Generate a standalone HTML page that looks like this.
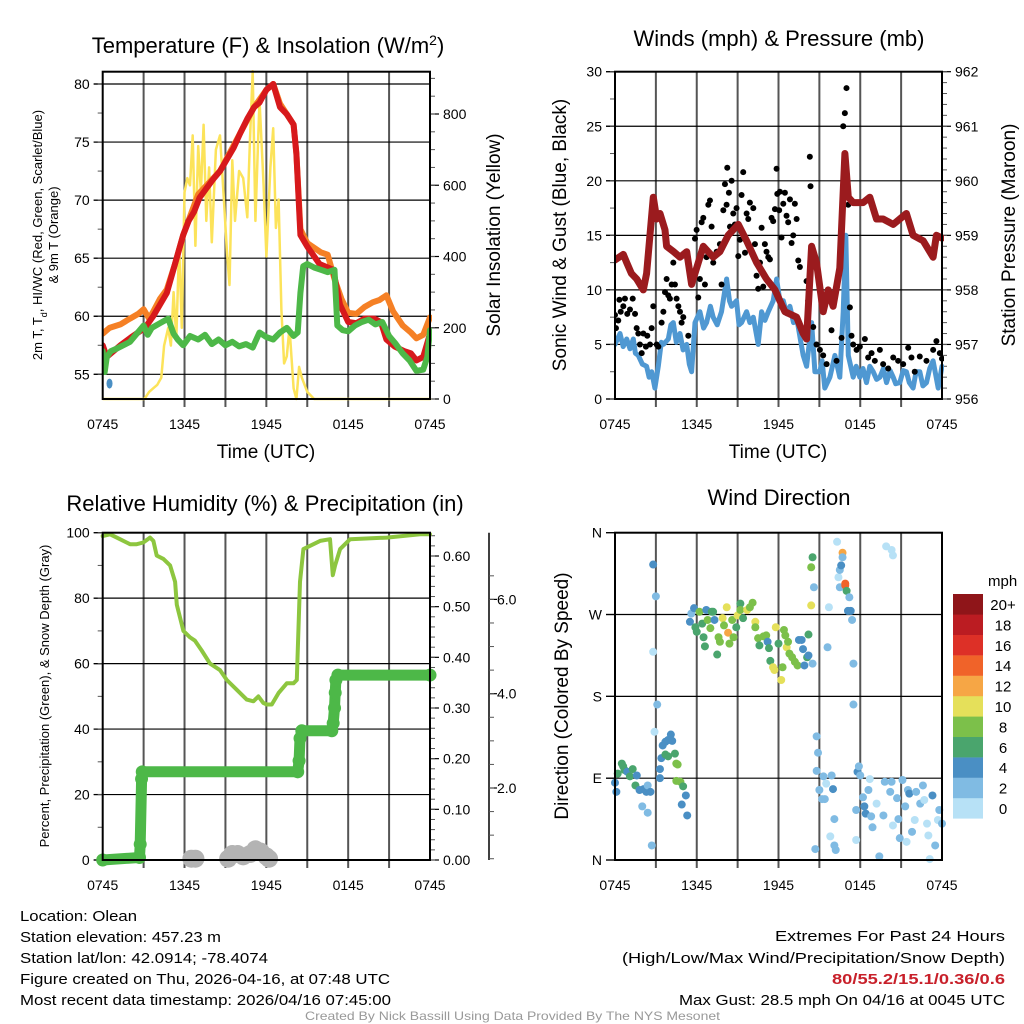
<!DOCTYPE html>
<html><head><meta charset="utf-8"><style>
html,body{margin:0;padding:0;background:#fff;}
svg{display:block;font-family:"Liberation Sans",sans-serif;}
</style></head><body>
<svg id="chart" width="1024" height="1024" viewBox="0 0 1024 1024" xmlns="http://www.w3.org/2000/svg">
<rect width="1024" height="1024" fill="#fff"/>
<g id="g1"></g>
<g id="g2"></g>
<g id="g3"></g>
<g id="g4"></g>
<text x="268" y="53" font-size="22" text-anchor="middle">Temperature (F) &amp; Insolation (W/m<tspan baseline-shift="super" font-size="14">2</tspan>)</text>
<text x="779" y="46" font-size="22" text-anchor="middle">Winds (mph) &amp; Pressure (mb)</text>
<text x="265" y="511" font-size="22" text-anchor="middle">Relative Humidity (%) &amp; Precipitation (in)</text>
<text x="779" y="505" font-size="22" text-anchor="middle">Wind Direction</text>
<text transform="translate(42,235) rotate(-90)" font-size="13" text-anchor="middle">2m T, T<tspan baseline-shift="sub" font-size="9">d</tspan>, HI/WC (Red, Green, Scarlet/Blue)</text>
<text transform="translate(58,235) rotate(-90)" font-size="13" text-anchor="middle">&amp; 9m T (Orange)</text>
<text transform="translate(500,235) rotate(-90)" font-size="19" text-anchor="middle">Solar Insolation (Yellow)</text>
<text transform="translate(566,235) rotate(-90)" font-size="19" text-anchor="middle">Sonic Wind &amp; Gust (Blue, Black)</text>
<text transform="translate(1015,235) rotate(-90)" font-size="19" text-anchor="middle">Station Pressure (Maroon)</text>
<text transform="translate(49,696) rotate(-90)" font-size="13" text-anchor="middle">Percent, Precipitation (Green), &amp; Snow Depth (Gray)</text>
<text transform="translate(568,696) rotate(-90)" font-size="19" text-anchor="middle">Direction (Colored By Speed)</text>
<text x="266" y="458" font-size="19" text-anchor="middle">Time (UTC)</text>
<text x="778" y="458" font-size="19" text-anchor="middle">Time (UTC)</text>
<g font-size="15">
<text x="20" y="921" textLength="117" lengthAdjust="spacingAndGlyphs">Location: Olean</text>
<text x="20" y="942" textLength="201" lengthAdjust="spacingAndGlyphs">Station elevation: 457.23 m</text>
<text x="20" y="963" textLength="248" lengthAdjust="spacingAndGlyphs">Station lat/lon: 42.0914; -78.4074</text>
<text x="20" y="984" textLength="370" lengthAdjust="spacingAndGlyphs">Figure created on Thu, 2026-04-16, at 07:48 UTC</text>
<text x="20" y="1005" textLength="371" lengthAdjust="spacingAndGlyphs">Most recent data timestamp: 2026/04/16 07:45:00</text>
</g>
<g font-size="15">
<text x="775" y="941" textLength="230" lengthAdjust="spacingAndGlyphs">Extremes For Past 24 Hours</text>
<text x="622" y="963" textLength="383" lengthAdjust="spacingAndGlyphs">(High/Low/Max Wind/Precipitation/Snow Depth)</text>
<text x="832" y="984" textLength="173" lengthAdjust="spacingAndGlyphs" fill="#c8202a" font-weight="bold">80/55.2/15.1/0.36/0.6</text>
<text x="679" y="1005" textLength="326" lengthAdjust="spacingAndGlyphs">Max Gust: 28.5 mph On 04/16 at 0045 UTC</text>
</g>
<text x="305" y="1020" font-size="12" fill="#999" textLength="415" lengthAdjust="spacingAndGlyphs">Created By Nick Bassill Using Data Provided By The NYS Mesonet</text>
</svg>
<script>
// ---------- data ----------
const xTickLabels = ["0745","1345","1945","0145","0745"];
const tempRedH = [0,0.3,1.3,2.1,3.1,3.7,4.2,4.7,5.3,5.9,6.3,6.7,7.1,7.6,8.1,8.6,9.1,9.6,10.1,10.6,11.1,11.5,12.0,12.5,13.0,13.5,14.0,14.2,14.5,15.0,15.9,16.9,17.4,18.0,18.6,19.2,19.9,20.4,20.8,21.4,22.1,22.6,23.0,23.5,24];
const tempRed  = [57.5,56.5,57.5,58.2,59,60,61,62,64.5,67,68.2,69,70.2,71,71.8,72.5,73.5,74.5,75.8,77,78,78.4,79.5,80,78,77.4,76.5,74,67,66,64.5,64,61,59.5,59.4,59.8,59.8,59.5,58,57.4,57,56.8,56.2,56.5,58.5];
const tempOrH  = [0,0.5,1.3,2.0,2.6,3.0,3.4,3.7,4.2,4.7,5.3,5.9,7.0,8.6,10.1,11.1,12.0,12.5,13.0,14.0,14.2,14.5,15.0,16.0,16.5,17.0,17.5,18.0,18.6,19.2,19.8,20.3,20.8,21.3,22.0,22.6,23.0,23.5,24];
const tempOr   = [58.5,59,59.3,59.8,60.2,60.6,59.8,60.4,61.5,62.3,64.5,67,70.5,72.5,75.8,78,79.5,80,78.3,76.5,74,67.5,66.3,65.5,65.3,63.2,61.5,60.3,60.2,60.8,61.2,61.4,61.8,60.4,59.2,58.6,58.1,58.4,59.9];
const dewH = [0,0.15,0.3,0.6,1.0,1.5,2.0,2.5,3.0,3.3,3.6,4.2,4.8,5.2,5.5,5.9,6.4,7.0,7.5,8.0,8.5,9.0,9.5,10.0,10.5,11.0,11.5,12.0,12.5,13.0,13.5,14.0,14.3,14.5,14.7,15.0,15.5,16.0,16.5,17.0,17.2,17.6,18.0,18.5,19.0,19.5,20.0,20.5,21.0,21.5,22.0,22.5,23.0,23.5,23.8,24];
const dew  = [57,55.2,56.5,57,57.2,57.5,57.8,58.5,59.2,58.4,59,59.4,59.8,58.5,58,57.5,58.3,58,58.4,57.6,58,57.5,57.8,57.4,57.6,57.3,58.6,58.2,58,58.6,59,58.3,58.6,62,64.3,64.5,64.2,64,63.8,64,59.2,58.8,58.7,59.2,59.5,59.7,59.3,59.5,58.3,57.6,56.8,56.2,55.3,55.4,56.5,58.8];
const solarH = [0,3.06,3.4,3.7,4.0,4.3,4.5,4.8,5.0,5.2,5.4,5.6,5.8,6.0,6.2,6.4,6.6,6.8,7.0,7.2,7.4,7.6,7.8,8.0,8.3,8.6,8.9,9.1,9.3,9.5,9.7,10.0,10.3,10.6,10.8,11.0,11.2,11.5,11.8,12.0,12.3,12.5,12.7,12.9,13.1,13.3,13.5,13.7,14.0,14.2,14.4,14.6,15.0,15.5,24];
const solar  = [0,0,20,30,40,60,150,200,150,300,170,430,200,580,620,600,740,430,710,580,770,500,650,440,700,740,550,420,320,670,500,640,620,510,730,920,500,840,600,400,650,760,480,560,250,100,120,200,30,0,90,60,20,0,0];
const windH = [0,0.37,0.6,0.86,1.1,1.34,1.5,1.71,2.0,2.32,2.5,2.69,2.93,3.18,3.4,3.55,3.91,4.1,4.28,4.5,4.77,5.0,5.26,5.45,5.62,5.87,6.23,6.5,6.72,7.0,7.21,7.5,7.82,8.19,8.4,8.56,8.92,9.1,9.29,9.66,9.9,10.15,10.51,10.76,11.0,11.25,11.61,11.86,12.1,12.35,12.6,12.84,13.1,13.33,13.6,13.81,14.06,14.43,14.67,15.04,15.2,15.4,15.77,16.14,16.5,16.75,16.94,17.12,17.48,17.7,17.97,18.2,18.46,18.7,18.95,19.2,19.44,19.7,19.93,20.2,20.42,20.6,20.9,21.15,21.39,21.6,21.88,22.1,22.37,22.6,22.86,23.1,23.35,23.72,24];
const windSpd = [5,6,4.8,5.5,4.6,5.5,4.2,4,3.2,3,2,2.5,1,3,5.2,5,5.5,6.8,7,5.2,6,4.5,5,3.2,2.5,7,8,6.5,7,8.5,7.5,6.8,8,11,9,8.5,9,6.8,7,8,7,7.5,5,8,7.2,8,9,11,9,9,7.8,8.5,7,7.5,5.5,4,3,7,2.5,2.5,3.5,1,2,4,2,8,15,4,2,3,2,2.8,1.5,3,2.5,1.8,2,2.8,1.5,2.6,2,1.4,1.5,2.6,2.5,1.5,1,2.5,2.5,1.2,1.5,2.8,3.5,1,3];
const gustH = [0,0.07,0.24,0.32,0.42,0.61,0.73,0.9,1.1,1.3,1.47,1.59,1.71,1.83,1.96,2.08,2.27,2.37,2.57,2.69,2.81,3.06,3.18,3.42,3.55,3.67,3.79,3.91,4.03,4.16,4.28,4.4,4.52,4.65,4.77,4.89,5.01,5.38,5.62,5.87,5.99,6.11,6.23,6.36,6.48,6.6,6.72,6.85,6.97,7.09,7.21,7.46,7.7,7.82,7.95,8.07,8.19,8.24,8.36,8.44,8.56,8.68,8.8,8.92,9.05,9.17,9.29,9.41,9.54,9.66,9.78,9.9,10.15,10.27,10.39,10.51,10.64,10.76,10.88,11.0,11.12,11.25,11.37,11.49,11.61,11.74,11.86,11.91,12.05,12.1,12.22,12.35,12.47,12.59,12.71,12.84,12.96,13.08,13.2,13.33,13.45,13.57,14.06,14.18,14.3,14.35,14.55,14.79,15.04,15.28,15.53,15.89,16.26,16.63,16.75,16.87,16.99,17.12,17.24,17.36,17.48,17.73,17.97,18.34,18.58,18.83,19.07,19.44,19.68,20.05,20.42,20.78,21.15,21.52,21.76,22.0,22.37,22.86,23.35,23.59,23.84,24];
const gust = [7.7,6.5,7.2,9.1,8,8.5,9.2,7.8,8.2,9.2,7.8,6.5,6,5,4.2,6,4.8,5.8,5,6.5,8.5,5,4.8,7,8,9.8,11,9.5,9.2,10.5,12.5,10.5,9.2,8.5,8,7,7.5,5.8,11.2,14.7,15.5,9.3,11,16.2,16.6,10.5,13,17.8,18.2,15.8,12.5,13.5,14.2,10.5,17.3,19.7,17.8,21.2,18.9,15.8,20,17,16,17.5,13.1,14.6,18.7,20.8,13.4,17,16.5,18,17.5,14.2,11.3,10.1,12.5,15.7,10.3,14.2,13.5,13,12.8,16.6,16.3,17.4,21.1,18.8,17.3,19,14.8,17.9,18.9,16.8,16.2,18.3,14.3,15,17.9,16.5,12.7,12.1,10.8,9.0,22.2,19.5,6.6,5,4.5,4,3.2,6.3,3.5,5.6,25,26.2,28.5,17.8,8.4,5.8,5,4.5,4.8,5.5,3.8,4.2,3.5,4.5,3.2,2.8,3.8,3.5,3.2,4.7,3.8,2.5,3.9,3.5,4.5,5.3,4.2,3.7];
const presH = [0,0.61,0.86,1.2,1.59,2.08,2.32,2.81,3.06,3.3,3.67,3.79,4.3,4.77,5.26,5.62,5.99,6.48,7.21,7.7,8.31,9.05,9.66,10.39,11.12,11.74,12.1,12.47,13.33,13.81,14.06,14.43,14.79,15.28,15.65,16.01,16.5,16.87,17.12,17.48,18.22,18.7,19.19,19.68,20.42,20.9,21.39,21.88,22.62,23.35,23.59,24];
const pres  = [958.55,958.65,958.5,958.3,958.2,958.0,958.3,959.7,959.3,959.4,959.1,958.8,958.7,958.6,958.7,958.1,958.4,958.8,958.6,958.7,959.0,959.2,958.9,958.5,958.2,958.0,957.8,957.6,957.5,957.2,957.1,958.8,958.5,957.6,958.0,957.7,958.4,960.5,959.7,959.6,959.6,959.7,959.3,959.3,959.2,959.3,959.4,959.0,958.9,958.6,959.0,958.95];
const rhH = [0,0.54,1.27,2.0,2.49,2.98,3.47,3.72,3.96,4.45,4.94,5.31,5.43,5.92,6.41,6.77,7.26,7.87,8.61,9.1,9.83,10.56,11.05,11.42,11.78,12.03,12.4,12.89,13.5,13.99,14.23,14.47,14.72,15.21,15.94,16.67,16.87,17.04,17.41,18.14,20.83,23.28,24];
const rh  = [99,99.5,98,96.5,96.5,97,98.5,97.5,93,92,90,85,78,70,68,67,64,60,58,55,52,49,48.5,50,48,47.5,47.5,51,54,54,55,85,95,96,97.5,98,87,90,95,98,98.5,99.5,99.5];
const precipH = [0,2.7,2.75,2.85,2.9,14.3,14.4,14.47,14.6,16.8,16.9,17.0,17.05,17.1,17.25,24];
const precip  = [0,0.005,0.031,0.16,0.174,0.174,0.196,0.24,0.255,0.255,0.27,0.30,0.33,0.355,0.365,0.365];
const snowH = [6.5,6.8,9.2,9.5,9.9,10.3,10.8,11.2,11.6,12.0,12.2];
const snow  = [0.5,0.5,0.5,0.6,0.6,0.55,0.6,0.7,0.65,0.55,0.5];
const dirH = [0,0.1,0.2,0.5,0.6,0.7,0.9,1.1,1.3,1.5,1.6,1.8,2.1,2.3,2.4,2.6,2.0,2.4,2.7,2.8,3.0,2.8,3.1,2.9,3.3,3.3,3.4,3.5,3.7,3.9,4.1,4.2,3.7,3.9,4.4,4.5,4.6,4.5,4.8,5.0,5.2,4.9,5.3,
5.5,5.6,5.8,5.9,6.0,6.2,6.4,6.5,6.6,6.7,6.8,7.0,7.1,7.2,7.3,7.5,7.6,7.7,7.9,8.0,8.2,8.3,8.4,8.6,8.7,8.9,9.0,9.2,9.2,9.4,9.7,9.9,10.1,10.3,10.3,10.5,10.6,10.9,11.1,11.2,11.3,11.4,11.6,11.7,11.8,12.0,12.2,12.3,12.4,12.5,12.6,12.7,12.8,13.0,13.2,13.4,13.5,13.7,13.8,13.9,14.1,14.2,14.2,14.4,14.5,
14.4,14.5,14.6,14.8,14.9,14.8,15.3,15.5,15.0,15.2,15.4,15.9,16.0,16.1,15.8,16.1,16.2,14.7,15.6,15.7,16.3,16.4,16.5,16.5,16.6,16.7,16.7,16.9,16.9,17.0,17.2,17.1,17.3,17.4,17.5,17.5,17.7,17.7,17.8,17.9,18.0,18.2,18.3,18.4,18.6,18.7,18.8,18.9,19.2,19.4,19.7,19.8,20.2,20.3,20.4,20.7,20.8,20.9,21.1,21.3,21.4,21.5,21.6,21.8,22.0,22.1,22.4,22.6,22.7,22.9,23.0,23.3,23.5,23.7,23.8,24.0,23.1,19.9,20.3,20.4];
const dirDeg = [85,75,95,106,103,99,97,92,100,82,93,77,78,75,82,75,59,52,16,325,290,229,171,141,90,100,112,126,130,132,138,131,116,114,117,106,105,87,86,81,71,61,49,
262,271,277,256,251,273,260,245,235,275,264,255,273,273,264,226,245,240,266,258,278,250,238,264,245,256,269,282,275,266,275,278,283,262,256,244,236,246,247,240,233,219,212,209,256,238,198,212,253,247,234,240,227,223,218,214,242,242,232,214,223,225,248,280,216,
322,333,300,136,118,98,92,84,77,67,67,93,78,45,26,16,11,12,234,278,350,311,300,319,324,338,333,304,302,296,289,274,274,264,216,171,55,22,97,103,93,69,59,51,77,89,48,36,62,4,49,86,75,86,38,68,45,24,88,59,20,77,73,31,44,75,62,82,66,40,27,71,16,44,55,40,1,345,341,335];
const dirSpd = [4,4,6,6,6,6,5,6,7,6,4,4,4,4,2,4,2,2,2,4,2,1,2,1,4,4,4,4,4,4,4,4,6,6,6,8,8,8,8,6,4,4,4,
4,2,4,6,6,8,6,6,6,4,8,8,6,6,4,6,8,8,10,8,10,12,8,8,8,6,10,6,8,6,10,8,8,10,8,8,6,8,8,4,6,6,10,10,10,6,10,8,8,8,10,8,8,8,8,8,4,4,4,4,6,4,6,10,2,
8,6,2,2,2,2,2,1,2,2,2,2,4,2,1,2,2,2,2,1,1,1,2,2,4,12,2,14,14,6,2,4,4,2,2,2,2,1,4,2,2,2,4,4,2,1,2,2,1,2,2,2,2,2,1,2,2,2,2,2,1,2,4,2,1,2,2,2,1,1,1,4,2,1,2,2,0,0,0,0];
const speedColors = ["#b7e1f6","#80bbe3","#4a8fc4","#4aa56d","#7cc04a","#e5e05a","#f6a645","#f06329","#dd3027","#bb1c22","#8f1519"];
const speedLabels = ["0","2","4","6","8","10","12","14","16","18","20+"];
const tempTicks = [55,60,65,70,75,80];
const solarTicks = [0,200,400,600,800];
const windTicks = [0,5,10,15,20,25,30];
const presTicks = [956,957,958,959,960,961,962];
const rhTicks = [0,20,40,60,80,100];
const precipTicks = [0,0.1,0.2,0.3,0.4,0.5,0.6];
const snowTicks = [2,4,6];
const dirTicks = [0,90,180,270,360];
const dirLabels = ["N","E","S","W","N"];

// ---------- helpers ----------
const NS="http://www.w3.org/2000/svg";
function mk(parent,tag,attrs){const e=document.createElementNS(NS,tag);for(const k in attrs)e.setAttribute(k,attrs[k]);parent.appendChild(e);return e;}
const L={x0:102.7,x1:430}, R={x0:615,x1:942};
const TOP={y0:71.7,y1:399}, BOT={y0:532.7,y1:860};
function xs(P,h){return P.x0+h*(P.x1-P.x0)/24;}
function lin(d0,d1,r0,r1){return v=>r0+(v-d0)*(r1-r0)/(d1-d0);}
const yT=lin(55,80,374.3,84), yS=lin(0,800,399,114);
const yW=lin(0,30,399,71.7), yP=lin(956,962,399,71.7);
const yR=lin(0,100,860,532.7), yPr=lin(0,0.6,860,556), ySn=lin(2,4,788,693.7);
const yD=lin(0,360,860,532.7);

function frame(g,P,V,nm){
  for(let i=1;i<8;i++){const x=xs(P,i*3);
    const l=mk(g,'line',{x1:x,x2:x,y1:V.y0,y2:V.y1+8,stroke:'#555','stroke-width':2});
    }
  for(let i=0;i<5;i++){const x=xs(P,i*6);
    const t=mk(g,'text',{x:x,y:V.y1+30,'font-size':14,'text-anchor':'middle'});t.textContent=xTickLabels[i];
    }
}
function yaxis(g,P,V,ticks,fn,labels,side,minorStep,lo,hi,grid,nm,dec){
  const x=side==='l'?P.x0:P.x1, d=side==='l'?-1:1;
  ticks.forEach((v,i)=>{const y=fn(v);
    if(grid){const gl=mk(g,'line',{x1:P.x0-9,x2:P.x1,y1:y,y2:y,stroke:'#000','stroke-width':1.2});
      }
    mk(g,'line',{x1:x,x2:x+d*9,y1:y,y2:y,stroke:'#000','stroke-width':1.2});
    const t=mk(g,'text',{x:x+d*13,y:y+5,'font-size':14,'text-anchor':side==='l'?'end':'start'});
    t.textContent=labels?labels[i]:(dec?v.toFixed(dec):v);
    });
  if(minorStep){for(let v=lo;v<=hi+1e-9;v+=minorStep){const y=fn(v);if(y<V.y0-1||y>V.y1+1)continue;
    mk(g,'line',{x1:x,x2:x+d*5,y1:y,y2:y,stroke:'#555','stroke-width':1});}}
}
function box(g,P,V){mk(g,'rect',{x:P.x0,y:V.y0,width:P.x1-P.x0,height:V.y1-V.y0,fill:'none',stroke:'#000','stroke-width':2});}
function path(g,P,hs,vs,fn,color,w,nm){
  let d='';hs.forEach((h,i)=>{d+=(i?'L':'M')+xs(P,h).toFixed(1)+','+fn(vs[i]).toFixed(1);});
  const p=mk(g,'path',{d:d,fill:'none',stroke:color,'stroke-width':w,'stroke-linejoin':'round','stroke-linecap':'round'});
  return p;}
function clip(id,P,V){const c=mk(document.getElementById('chart'),'clipPath',{id:id});mk(c,'rect',{x:P.x0,y:V.y0-2,width:P.x1-P.x0+2,height:V.y1-V.y0+4});}

// ---------- panel 1 ----------
const g1=document.getElementById('g1');
frame(g1,L,TOP,'temp');
yaxis(g1,L,TOP,tempTicks,yT,null,'l',2.5,52.5,82.5,true,'temp-y');
yaxis(g1,L,TOP,solarTicks,yS,null,'r',50,0,900,false,'solar-y');
clip('c1',L,TOP);
const d1=mk(g1,'g',{'clip-path':'url(#c1)'});
path(d1,L,solarH,solar,yS,'#fce35a',2.5,'solar-line');
path(d1,L,tempOrH,tempOr,yT,'#f58025',6,'temp-9m-line');
path(d1,L,tempRedH,tempRed,yT,'#d7191c',6,'temp-2m-line');
path(d1,L,dewH,dew,yT,'#4db848',6,'dewpoint-line');
const hi=mk(d1,'ellipse',{cx:xs(L,0.5),cy:yT(54.2),rx:3,ry:5,fill:'#4a8fc4'});

box(g1,L,TOP);

// ---------- panel 2 ----------
const g2=document.getElementById('g2');
frame(g2,R,TOP,'wind');
yaxis(g2,R,TOP,windTicks,yW,null,'l',2.5,0,30,true,'wind-y');
yaxis(g2,R,TOP,presTicks,yP,null,'r',0.2,956,962,false,'pressure-y');
clip('c2',R,TOP);
const d2=mk(g2,'g',{'clip-path':'url(#c2)'});
path(d2,R,windH,windSpd,yW,'#4f98d2',5,'sustained-wind-line');
gustH.forEach((h,i)=>{const c=mk(d2,'circle',{cx:xs(R,h),cy:yW(gust[i]),r:3,fill:'#000'});
  
  });
path(d2,R,presH,pres,yP,'#9b1b1e',7,'pressure-line');
box(g2,R,TOP);

// ---------- panel 3 ----------
const g3=document.getElementById('g3');
frame(g3,L,BOT,'rh');
yaxis(g3,L,BOT,rhTicks,yR,null,'l',10,0,100,true,'rh-y');
yaxis(g3,L,BOT,precipTicks,yPr,null,'r',0.02,0,0.64,false,'precip-y',2);
mk(g3,'line',{x1:489,x2:489,y1:532.7,y2:860,stroke:'#000','stroke-width':1.5});
snowTicks.forEach(v=>{const y=ySn(v);mk(g3,'line',{x1:489,x2:497,y1:y,y2:y,stroke:'#000','stroke-width':1.2});
  const t=mk(g3,'text',{x:497,y:y+5,'font-size':14});t.textContent=v.toFixed(1);
  });
for(let v=0.5;v<=6.5;v+=0.5){const y=ySn(v);if(y<533||y>860)continue;mk(g3,'line',{x1:489,x2:494,y1:y,y2:y,stroke:'#555','stroke-width':1});}
snowH.forEach((h,i)=>{const c=mk(g3,'circle',{cx:xs(L,h),cy:ySn(snow[i]),r:9,fill:'#b3b3b3'});
  
  });
path(g3,L,rhH,rh,yR,'#8dc63f',4,'rh-line');
let pd='';precipH.forEach((h,i)=>{pd+=(i?'L':'M')+xs(L,h).toFixed(1)+','+yPr(precip[i]).toFixed(1);});
const pl=mk(g3,'path',{d:pd,fill:'none',stroke:'#4db848','stroke-width':11,'stroke-linecap':'round','stroke-linejoin':'round'});

precipH.forEach((h,i)=>{const c=mk(g3,'circle',{cx:xs(L,h),cy:yPr(precip[i]),r:6.5,fill:'#4db848'});
  
  });
box(g3,L,BOT);

// ---------- panel 4 ----------
const g4=document.getElementById('g4');
frame(g4,R,BOT,'direction');
yaxis(g4,R,BOT,dirTicks,yD,dirLabels,'l',0,0,0,true,'direction-y');
dirH.forEach((h,i)=>{const b=Math.min(10,Math.floor(dirSpd[i]/2));
  const c=mk(g4,'circle',{cx:xs(R,h),cy:yD(dirDeg[i]),r:4,fill:speedColors[b]});
  
  });
box(g4,R,BOT);
const lg=mk(g4,'g',{});


const ut=mk(lg,'text',{x:988,y:586,'font-size':15});ut.textContent='mph';
speedColors.forEach((col,i)=>{const y=594+(10-i)*20.4;
  mk(lg,'rect',{x:953,y:y,width:30,height:20.6,fill:col});
  const t=mk(lg,'text',{x:1003,y:y+16,'font-size':15,'text-anchor':'middle'});t.textContent=speedLabels[i];});
</script>
</body></html>
